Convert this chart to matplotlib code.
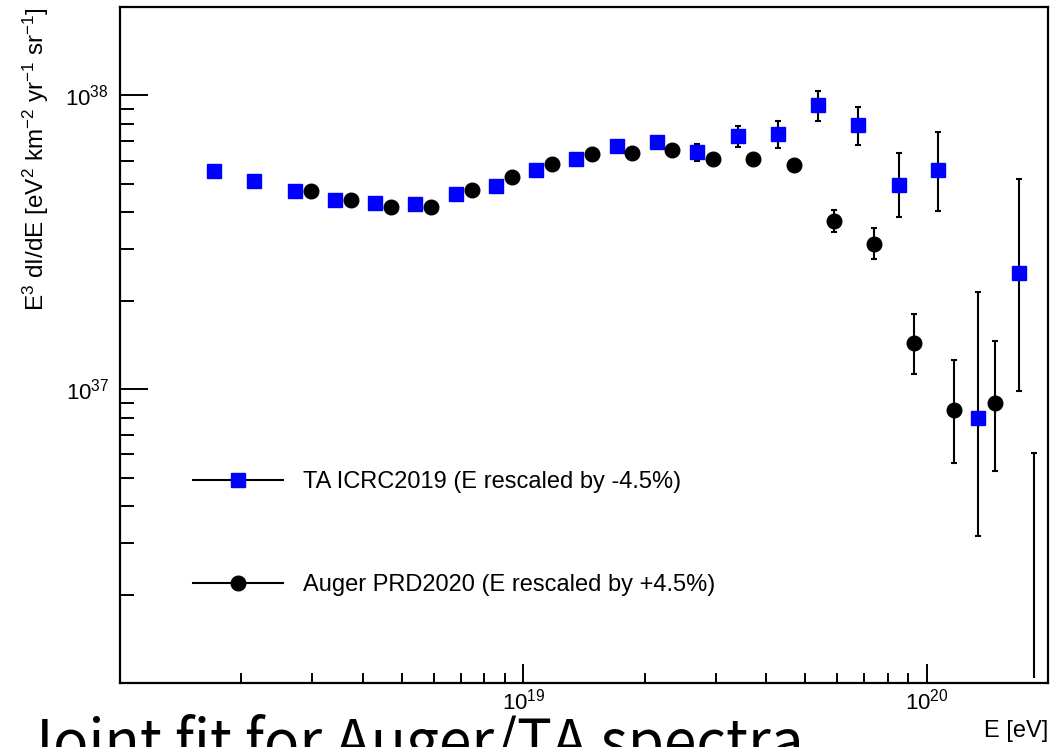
import numpy as np
import matplotlib
matplotlib.use("Agg")
import matplotlib.pyplot as plt
from matplotlib.lines import Line2D

plt.rcParams['font.family'] = ['Liberation Sans', 'DejaVu Sans']
plt.rcParams['mathtext.fontset'] = 'custom'
plt.rcParams['mathtext.rm'] = 'Liberation Sans'
plt.rcParams['mathtext.it'] = 'Liberation Sans:italic'
plt.rcParams['mathtext.bf'] = 'Liberation Sans:bold'

# TA ICRC2019 (E rescaled by -4.5%)
ta_E = [1.714e18, 2.155e18, 2.71e18, 3.41e18, 4.30e18, 5.40e18, 6.81e18,
        8.55e18, 1.077e19, 1.353e19, 1.705e19, 2.143e19, 2.70e19, 3.40e19,
        4.27e19, 5.37e19, 6.76e19, 8.52e19, 1.07e20, 1.344e20, 1.696e20]
ta_J = [5.53e37, 5.10e37, 4.73e37, 4.42e37, 4.30e37, 4.26e37, 4.63e37,
        4.91e37, 5.56e37, 6.07e37, 6.72e37, 6.92e37, 6.42e37, 7.25e37,
        7.40e37, 9.27e37, 7.92e37, 4.95e37, 5.58e37, 7.99e36, 2.49e37]
ta_hi = [5.53e37, 5.10e37, 4.73e37, 4.42e37, 4.30e37, 4.26e37, 4.63e37,
         4.91e37, 5.56e37, 6.07e37, 6.72e37, 6.92e37, 6.84e37, 7.84e37,
         8.16e37, 1.034e38, 9.10e37, 6.37e37, 7.48e37, 2.14e37, 5.18e37]
ta_lo = [5.53e37, 5.10e37, 4.73e37, 4.42e37, 4.30e37, 4.26e37, 4.63e37,
         4.91e37, 5.56e37, 6.07e37, 6.72e37, 6.92e37, 5.97e37, 6.66e37,
         6.63e37, 8.19e37, 6.76e37, 3.85e37, 4.03e37, 3.17e36, 9.90e36]

# Auger PRD2020 (E rescaled by +4.5%)
au_E = [2.97e18, 3.74e18, 4.70e18, 5.90e18, 7.45e18, 9.36e18, 1.176e19,
        1.482e19, 1.863e19, 2.34e19, 2.95e19, 3.71e19, 4.68e19, 5.88e19,
        7.39e19, 9.29e19, 1.170e20, 1.475e20]
au_J = [4.73e37, 4.42e37, 4.17e37, 4.17e37, 4.75e37, 5.28e37, 5.85e37,
        6.31e37, 6.36e37, 6.52e37, 6.07e37, 6.08e37, 5.80e37, 3.73e37,
        3.13e37, 1.432e37, 8.48e36, 8.99e36]
au_hi = [4.73e37, 4.42e37, 4.17e37, 4.17e37, 4.75e37, 5.28e37, 5.85e37,
         6.31e37, 6.36e37, 6.52e37, 6.07e37, 6.08e37, 5.80e37, 4.09e37,
         3.53e37, 1.80e37, 1.256e37, 1.458e37]
au_lo = [4.73e37, 4.42e37, 4.17e37, 4.17e37, 4.75e37, 5.28e37, 5.85e37,
         6.31e37, 6.36e37, 6.52e37, 6.07e37, 6.08e37, 5.80e37, 3.42e37,
         2.77e37, 1.129e37, 5.61e36, 5.25e36]
# last Auger bin: value below the frame, only the bar shows
au_last_E = 1.85e20
au_last_lo = 1.04e36
au_last_hi = 6.05e36

ta_J = np.array(ta_J); au_J = np.array(au_J)
ta_err = [ta_J - np.array(ta_lo), np.array(ta_hi) - ta_J]
au_err = [au_J - np.array(au_lo), np.array(au_hi) - au_J]

fig = plt.figure(figsize=(10.54, 7.47), dpi=100)
ax = fig.add_axes([120/1054, 1 - 683/747, 928/1054, 676/747])

ax.errorbar(ta_E, ta_J, yerr=ta_err, fmt='s', color='blue', ms=10,
            ecolor='black', elinewidth=1.5, capsize=2, capthick=1.5,
            mec='blue', zorder=3)
ax.errorbar(au_E, au_J, yerr=au_err, fmt='o', color='black', ms=10.5,
            ecolor='black', elinewidth=1.5, capsize=2, capthick=1.5,
            zorder=4)
ax.vlines([au_last_E], [au_last_lo], [au_last_hi], color='black', lw=1.5)
ax.plot([au_last_E], [au_last_hi], marker='_', ms=4, mew=1.5, color='black')

ax.set_xscale('log')
ax.set_yscale('log')
ax.set_xlim(1e18, 2e20)
ax.set_ylim(1e36, 2e38)
ax.set_xticks([1e19, 1e20])
ax.set_yticks([1e37, 1e38])

for s in ax.spines.values():
    s.set_linewidth(1.6)
ax.tick_params(which='both', direction='in', top=False, right=False, width=1.4)
ax.tick_params(axis='y', which='major', length=20, pad=8, labelsize=16)
ax.tick_params(axis='y', which='minor', length=10)
ax.tick_params(axis='x', which='major', length=13.5, pad=4, labelsize=16)
ax.tick_params(axis='x', which='minor', length=7)
ax.yaxis.set_minor_formatter(matplotlib.ticker.NullFormatter())
ax.xaxis.set_minor_formatter(matplotlib.ticker.NullFormatter())

ax.set_xlabel('E [eV]', fontsize=17, loc='right', labelpad=4)
ax.set_ylabel(r'E$^{3}$ dI/dE [eV$^{2}$ km$^{-2}$ yr$^{-1}$ sr$^{-1}$]',
              fontsize=17.5, loc='top', labelpad=10)

handles = [Line2D([], [], color='black', lw=1.5, marker='s', ms=10, mfc='blue', mec='blue'),
           Line2D([], [], color='black', lw=1.5, marker='o', ms=10.5, mfc='black', mec='black')]
labels = ['TA ICRC2019 (E rescaled by -4.5%)', 'Auger PRD2020 (E rescaled by +4.5%)']
ax.legend(handles, labels, loc='upper left', bbox_to_anchor=(0.0787, 0.3136),
          frameon=False, fontsize=17, numpoints=1, handlelength=3.8,
          handletextpad=0.85, labelspacing=3.45, borderpad=0, borderaxespad=0)

fig.text(22/1054, -15/747, 'Joint fit for Auger/TA spectra', fontsize=42,
         family=['Noto Sans CJK JP', 'DejaVu Sans'], va='baseline', ha='left')

fig.savefig('out.png', dpi=100)
